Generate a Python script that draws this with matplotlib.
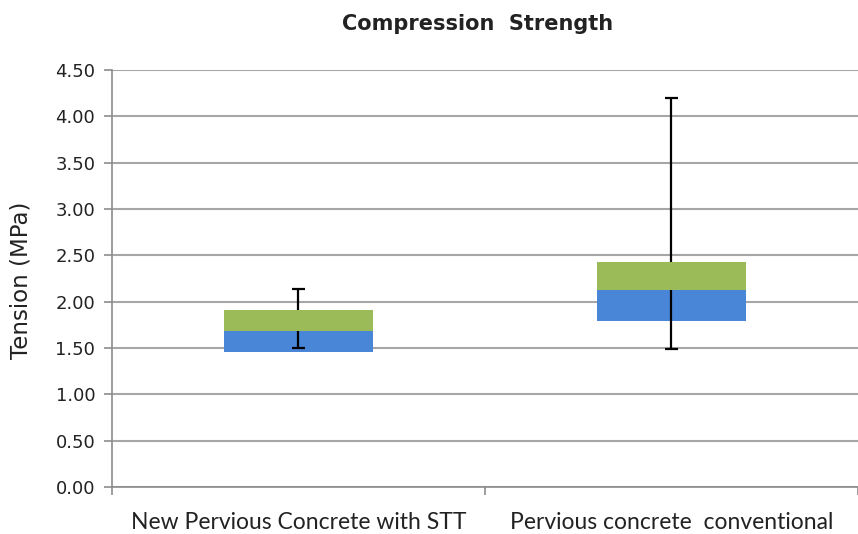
import numpy as np
import matplotlib.pyplot as plt

# box-plot-as-stacked-bars, values
categories = ["New Pervious Concrete with STT", "Pervious concrete  conventional"]
q1 = [1.46, 1.79]
median = [1.68, 2.13]
q3 = [1.91, 2.43]
low = [1.50, 1.49]
high = [2.14, 4.20]
yticks = [0.0, 0.5, 1.0, 1.5, 2.0, 2.5, 3.0, 3.5, 4.0, 4.5]

blue = "#4A86D8"
green = "#9BBB59"
grid = "#A6A6A6"

fig = plt.figure(figsize=(8.58, 5.34), dpi=100)
ax = fig.add_axes([0.1305, 0.088, 0.8695, 0.781])

x = np.arange(len(categories))
q1 = np.array(q1)
median = np.array(median)
q3 = np.array(q3)
low = np.array(low)
high = np.array(high)
cap = 0.018

# lower part: Q1 -> median, whisker down to min
ax.bar(x, median - q1, bottom=q1, width=0.40, color=blue, zorder=2)
ax.vlines(x, low, median, color="black", linewidth=1.6, zorder=3)
ax.hlines(low, x - cap, x + cap, color="black", linewidth=1.6, zorder=3)
# upper part: median -> Q3, whisker up to max
ax.bar(x, q3 - median, bottom=median, width=0.40, color=green, zorder=4)
ax.vlines(x, q3, high, color="black", linewidth=1.6, zorder=5)
ax.hlines(high, x - cap, x + cap, color="black", linewidth=1.6, zorder=5)

ax.set_ylim(0, 4.5)
ax.set_xlim(-0.5, 1.479)
ax.set_yticks(yticks)
ax.set_yticklabels([f"{v:.2f}" for v in yticks], fontsize=13, color="#222222")
ax.yaxis.grid(True, color=grid, linewidth=1.5, zorder=0)
ax.set_axisbelow(True)

# category separators as ticks, labels centred on the bars
ax.set_xticks([-0.5, 0.5, 1.5])
ax.set_xticklabels([])
ax.set_xticks(x, minor=True)
ax.set_xticklabels(categories, minor=True, fontsize=16.5, family="Lato", color="#222222")
ax.tick_params(axis="x", which="minor", length=0, pad=18)
ax.tick_params(axis="x", which="major", length=6, color="#8c8c8c", width=1.2)
ax.tick_params(axis="y", length=6, color="#8c8c8c", width=1.2, pad=6)

for s in ["top", "right"]:
    ax.spines[s].set_visible(False)
for s in ["left", "bottom"]:
    ax.spines[s].set_color("#8c8c8c")
    ax.spines[s].set_linewidth(1.2)

fig.text(21 / 858, 1 - 280 / 534, "Tension (MPa)", rotation=90, ha="center", va="center",
         fontsize=16.5, color="#222222")
fig.text(478 / 858, 1 - 24 / 534, "Compression  Strength", ha="center", va="center",
         fontsize=15, fontweight="bold", color="#222222")

fig.savefig("out.png", dpi=100)
